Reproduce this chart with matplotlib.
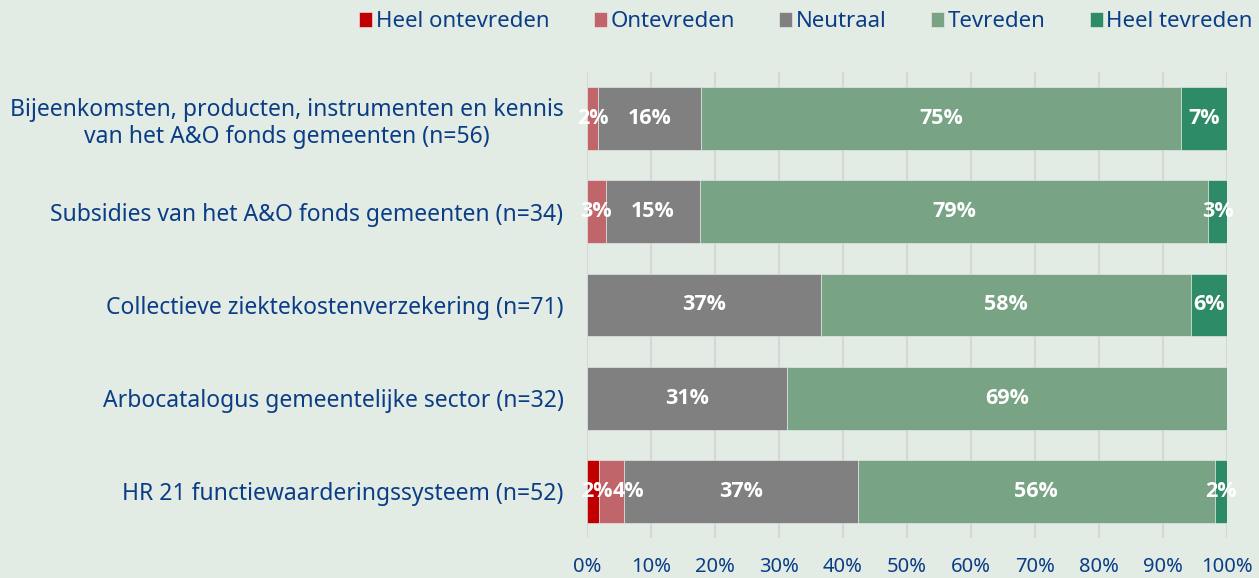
import matplotlib
matplotlib.use("Agg")
import matplotlib.pyplot as plt
import numpy as np

categories = [
    "Bijeenkomsten, producten, instrumenten en kennis\nvan het A&O fonds gemeenten (n=56)",
    "Subsidies van het A&O fonds gemeenten (n=34)",
    "Collectieve ziektekostenverzekering (n=71)",
    "Arbocatalogus gemeentelijke sector (n=32)",
    "HR 21 functiewaarderingssysteem (n=52)",
]
series_names = ["Heel ontevreden", "Ontevreden", "Neutraal", "Tevreden", "Heel tevreden"]
heel_ontevreden = [0.0, 0.0, 0.0, 0.0, 1.92]
ontevreden = [1.79, 2.94, 0.0, 0.0, 3.85]
neutraal = [16.07, 14.71, 36.62, 31.25, 36.54]
tevreden = [75.0, 79.41, 57.75, 68.75, 55.77]
heel_tevreden = [7.14, 2.94, 5.63, 0.0, 1.92]
labels = [
    ["", "", "", "", "2%"],
    ["2%", "3%", "", "", "4%"],
    ["16%", "15%", "37%", "31%", "37%"],
    ["75%", "79%", "58%", "69%", "56%"],
    ["7%", "3%", "6%", "", "2%"],
]
colors = ["#c00000", "#c0666a", "#808080", "#78a385", "#2e8b68"]
xticks = [0, 10, 20, 30, 40, 50, 60, 70, 80, 90, 100]

bg = "#e2ece5"
txt = "#0b3d86"
font = "Noto Sans"
lab_font = ["Open Sans", "DejaVu Sans"]

fig = plt.figure(figsize=(12.59, 5.78), dpi=100, facecolor=bg)
ax = fig.add_axes([587/1259, 1-538/578, 640/1259, 466/578], facecolor=bg)

data = [heel_ontevreden, ontevreden, neutraal, tevreden, heel_tevreden]
y = np.arange(len(categories))
left = np.zeros(len(categories))
handles = []
for i, (vals, name, c) in enumerate(zip(data, series_names, colors)):
    vals = np.array(vals)
    b = ax.barh(y, vals, left=left, height=0.675, color=c, label=name,
                edgecolor="#f0f0f0", linewidth=0.4, zorder=3)
    handles.append(b)
    for j, v in enumerate(vals):
        lab = labels[i][j]
        if lab:
            # nudge tiny adjacent labels apart, as in the original
            dx = 0
            if i == 0 and labels[1][j]:
                dx = 3
            elif i == 1 and labels[0][j]:
                dx = 12
            ax.annotate(lab, (left[j] + v/2, y[j]), xytext=(dx, 0),
                        textcoords="offset points", ha="center", va="center",
                        color="white", fontweight="bold", fontsize=15.5,
                        family=lab_font, zorder=4)
    left += vals

ax.set_xlim(0, 100)
ax.set_ylim(len(categories) - 0.5, -0.5)
ax.set_yticks(y)
ax.set_yticklabels(categories, fontsize=16.5, color=txt, family=font,
                   multialignment="center", linespacing=1.2)
ax.set_xticks(xticks)
ax.set_xticklabels([f"{t}%" for t in xticks], fontsize=14.5, color=txt, family=font)
ax.tick_params(axis="y", length=0, pad=17)
ax.tick_params(axis="x", length=0, pad=14)
for s in ax.spines.values():
    s.set_visible(False)
ax.grid(axis="x", color="#d6d6d6", linewidth=1.5, zorder=0)

leg = fig.legend(handles=handles, labels=series_names, loc="upper right",
                 bbox_to_anchor=(1.011, 1.015), ncol=5, frameon=False,
                 handlelength=0.6, handleheight=0.6, handletextpad=0.15,
                 columnspacing=2.0, prop={"family": font, "size": 16})
for t in leg.get_texts():
    t.set_color(txt)

fig.savefig("out.png", dpi=100, facecolor=bg)
